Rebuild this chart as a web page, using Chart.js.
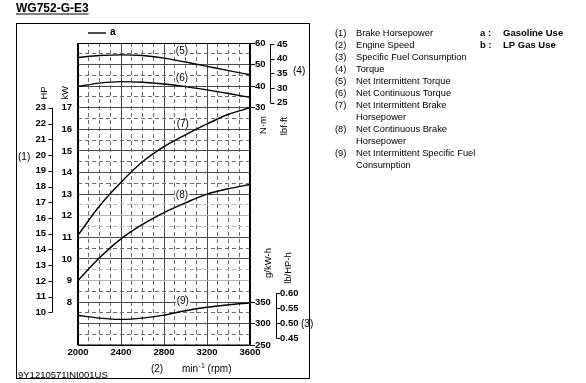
<!DOCTYPE html>
<html><head><meta charset="utf-8">
<script src="https://cdn.jsdelivr.net/npm/chart.js@4.4.1/dist/chart.umd.min.js"></script>
<style>html,body{margin:0;padding:0;background:#fff;}canvas{display:block;}</style>
</head><body>
<canvas id="c" width="586" height="383"></canvas>
<script>
// ---- data ----
const rpm = [2000, 2200, 2400, 2600, 2800, 3000, 3200, 3400, 3600];
const intermittentTorque = [53.3, 54.2, 54.5, 54.2, 53.0, 51.2, 49.2, 47.2, 45.3];   // (5) N·m
const continuousTorque   = [39.9, 41.4, 42.1, 41.8, 41.0, 39.8, 38.3, 36.6, 34.8];   // (6) N·m
const intermittentPower  = [11.1, 12.45, 13.55, 14.5, 15.2, 15.75, 16.25, 16.7, 17.0]; // (7) kW
const continuousPower    = [9.0, 10.05, 10.93, 11.6, 12.15, 12.6, 13.0, 13.25, 13.45]; // (8) kW
const intermittentSfc    = [319, 313, 310, 313, 320, 330, 338, 344, 348];            // (9) g/kWh

const xTickLabels = [2000, 2400, 2800, 3200, 3600];
const hpTicks   = [10, 11, 12, 13, 14, 15, 16, 17, 18, 19, 20, 21, 22, 23];
const kwTicks   = [8, 9, 10, 11, 12, 13, 14, 15, 16, 17];
const nmTicks   = [30, 40, 50, 60];
const lbfTicks  = [25, 30, 35, 40, 45];
const sfcTicks  = [250, 300, 350];
const lbhTicks  = [0.45, 0.50, 0.55, 0.60];
const grayRows  = [3, 3.5, 5.5, 6, 6.5];

const legendItems = [
  ['(1)', 'Brake Horsepower'],
  ['(2)', 'Engine Speed'],
  ['(3)', 'Specific Fuel Consumption'],
  ['(4)', 'Torque'],
  ['(5)', 'Net Intermittent Torque'],
  ['(6)', 'Net Continuous Torque'],
  ['(7)', 'Net Intermittent Brake'],
  ['', 'Horsepower'],
  ['(8)', 'Net Continuous Brake'],
  ['', 'Horsepower'],
  ['(9)', 'Net Intermittent Specific Fuel'],
  ['', 'Consumption']
];

const FONT = '"Liberation Sans", Arial, Helvetica, sans-serif';
const pts = arr => rpm.map((x, i) => ({x: x, y: arr[i]}));
const setTicks = vals => (s) => { s.ticks = vals.map(v => ({value: v})); };
const zeroW = s => { s.width = 0; };
const tickFont = {family: FONT, size: 9.5, weight: 'bold'};

function ds(arr, axis) {
  return {data: pts(arr), yAxisID: axis, borderColor: '#000', borderWidth: 1.4,
          pointRadius: 0, fill: false, cubicInterpolationMode: 'monotone'};
}

function yAxis(pos, min, max, vals, pad, drawTicks, fmt) {
  return {
    type: 'linear', position: pos, min: min, max: max,
    afterBuildTicks: setTicks(vals), afterFit: zeroW,
    border: {display: false},
    grid: {drawOnChartArea: false, drawTicks: drawTicks, tickLength: 5, tickColor: '#000', tickWidth: 1},
    ticks: {autoSkip: false, padding: pad, color: '#000', font: tickFont,
            callback: fmt || (v => String(v))}
  };
}

const deco = {
  id: 'deco',
  afterLayout(chart) {
    // widen the zero-width axis boxes so their labels are not clipped
    Object.values(chart.scales).forEach(s => {
      if (s.axis === 'y') {
        if (s.position === 'left') { s.left = 0; }
        else { s.right = chart.width; }
        s.width = s.right - s.left;
      } else {
        s.bottom = chart.height; s.height = s.bottom - s.top;
      }
    });
  },
  beforeDatasetsDraw(chart) {
    const ctx = chart.ctx, a = chart.chartArea;
    ctx.save();
    ctx.strokeStyle = '#000';
    ctx.lineWidth = 1.2;
    ctx.beginPath(); ctx.moveTo(a.left, a.top + 0.5); ctx.lineTo(a.right, a.top + 0.5); ctx.stroke();
    ctx.lineWidth = 1.6;
    ctx.beginPath(); ctx.moveTo(a.left, a.bottom); ctx.lineTo(a.right, a.bottom); ctx.stroke();
    ctx.lineWidth = 2;
    ctx.beginPath(); ctx.moveTo(a.left, a.top); ctx.lineTo(a.left, a.bottom); ctx.stroke();
    ctx.beginPath(); ctx.moveTo(a.right, a.top); ctx.lineTo(a.right, a.bottom); ctx.stroke();
    ctx.restore();
  },
  afterDatasetsDraw(chart) {
    const ctx = chart.ctx, s = chart.scales;
    ctx.save();
    // curve labels
    const labels = [['(5)', 2967, 56.3, 'nm'], ['(6)', 2967, 43.8, 'nm'], ['(7)', 2975, 16.26, 'kw'],
                    ['(8)', 2967, 12.95, 'kw'], ['(9)', 2975, 351, 'sfc']];
    ctx.font = '10px ' + FONT;
    ctx.textAlign = 'center'; ctx.textBaseline = 'middle';
    labels.forEach(l => {
      const x = s.x.getPixelForValue(l[1]), y = s[l[3]].getPixelForValue(l[2]);
      const w = ctx.measureText(l[0]).width + 2;
      ctx.fillStyle = '#fff'; ctx.fillRect(x - w / 2, y - 5, w, 10);
      ctx.fillStyle = '#000'; ctx.fillText(l[0], x, y);
    });
    // brackets
    ctx.strokeStyle = '#000'; ctx.lineWidth = 1;
    function bracket(scale, vals, x, dir) {
      const y1 = scale.getPixelForValue(vals[0]), y2 = scale.getPixelForValue(vals[vals.length - 1]);
      ctx.beginPath(); ctx.moveTo(x, y1); ctx.lineTo(x, y2); ctx.stroke();
      vals.forEach(v => {
        const y = Math.round(scale.getPixelForValue(v)) + 0.5;
        ctx.beginPath(); ctx.moveTo(x, y); ctx.lineTo(x + dir * 4, y); ctx.stroke();
      });
    }
    bracket(s.hp, hpTicks, 52.5, -1);
    bracket(s.lbf, lbfTicks, 270.5, 1);
    bracket(s.lbh, lbhTicks, 276.5, 1);
    ctx.restore();
  },
  afterDraw(chart) {
    const ctx = chart.ctx;
    ctx.save();
    ctx.fillStyle = '#000'; ctx.strokeStyle = '#000';
    // title
    ctx.font = 'bold 12px ' + FONT;
    ctx.textAlign = 'left'; ctx.textBaseline = 'alphabetic';
    ctx.fillText('WG752-G-E3', 16, 12);
    const tw = ctx.measureText('WG752-G-E3').width;
    ctx.lineWidth = 1;
    ctx.beginPath(); ctx.moveTo(16, 14); ctx.lineTo(16 + tw, 14); ctx.stroke();
    // frame
    ctx.strokeRect(16.5, 23.5, 293, 355);
    // legend a
    ctx.lineWidth = 1.4;
    ctx.beginPath(); ctx.moveTo(88, 33); ctx.lineTo(106, 33); ctx.stroke();
    ctx.font = 'bold 10px ' + FONT; ctx.textBaseline = 'middle';
    ctx.fillText('a', 110, 32);
    // rotated unit labels
    function rot(t, x, y) {
      ctx.save(); ctx.translate(x, y); ctx.rotate(-Math.PI / 2);
      ctx.textAlign = 'center'; ctx.textBaseline = 'middle';
      ctx.fillText(t, 0, 0); ctx.restore();
    }
    ctx.font = '9.5px ' + FONT;
    rot('HP', 44, 93);
    rot('kW', 65, 93);
    rot('N·m', 263, 125);
    rot('lbf·ft', 284, 126);
    rot('g/kW-h', 268, 263);
    rot('lb/HP-h', 288, 268);
    ctx.font = '10px ' + FONT; ctx.textAlign = 'left'; ctx.textBaseline = 'middle';
    ctx.fillText('(1)', 18, 157);
    ctx.fillText('(4)', 293, 71);
    ctx.fillText('(3)', 301, 324);
    ctx.textAlign = 'center';
    ctx.fillText('(2)', 157, 369);
    ctx.textAlign = 'left';
    ctx.fillText('min', 182, 369);
    let mx = 182 + ctx.measureText('min').width;
    ctx.font = '7px ' + FONT;
    ctx.fillText('-1', mx + 0.5, 366);
    mx += ctx.measureText('-1').width + 0.5;
    ctx.font = '10px ' + FONT;
    ctx.fillText(' (rpm)', mx, 369);
    ctx.font = '9.5px ' + FONT;
    ctx.fillText('9Y1210571INI001US', 18, 375);
    // right legend
    ctx.font = '9.3px ' + FONT;
    legendItems.forEach((it, i) => {
      const y = 33 + i * 12;
      if (it[0]) ctx.fillText(it[0], 335, y);
      ctx.fillText(it[1], 356, y);
    });
    ctx.font = 'bold 9.5px ' + FONT;
    ctx.fillText('a :', 480, 33); ctx.fillText('Gasoline Use', 503, 33);
    ctx.fillText('b :', 480, 45); ctx.fillText('LP Gas Use', 503, 45);
    ctx.restore();
  }
};

new Chart(document.getElementById('c'), {
  type: 'line',
  data: {datasets: [
    ds(intermittentTorque, 'nm'),
    ds(continuousTorque, 'nm'),
    ds(intermittentPower, 'kw'),
    ds(continuousPower, 'kw'),
    ds(intermittentSfc, 'sfc')
  ]},
  options: {
    responsive: false, animation: false, devicePixelRatio: 1,
    layout: {padding: {left: 78, right: 336, top: 43, bottom: 37}},
    plugins: {legend: {display: false}, tooltip: {enabled: false}, title: {display: false}},
    scales: {
      x: {
        type: 'linear', position: 'bottom', min: 2000, max: 3600,
        afterFit: s => { s.height = 0; },
        border: {display: false, dash: c => (c.tick && c.tick.value % 400 !== 0) ? [4, 3] : []},
        grid: {drawTicks: false, lineWidth: 1,
               color: c => (c.tick && c.tick.value % 400 !== 0) ? '#6a6a6a' : '#4a4a4a'},
        ticks: {stepSize: 100, autoSkip: false, maxRotation: 0, padding: 1, color: '#000', font: tickFont,
                callback: v => xTickLabels.includes(v) ? String(v) : ''}
      },
      row: {
        type: 'linear', position: 'left', min: 0, max: 14,
        afterFit: zeroW,
        border: {display: false, dash: c => (c.tick && c.tick.value % 1 !== 0) ? [4, 3] : []},
        grid: {drawTicks: false, lineWidth: 1,
               color: c => (c.tick && grayRows.includes(c.tick.value)) ? '#b4b4b4' :
                           ((c.tick && c.tick.value % 1 !== 0) ? '#6a6a6a' : '#4a4a4a')},
        ticks: {display: false, stepSize: 0.5, autoSkip: false}
      },
      hp: yAxis('left', 7.91, 27.12, hpTicks, 32, false),
      kw: yAxis('left', 6, 20, kwTicks, 6, false),
      nm: yAxis('right', -80, 60, nmTicks, 0, true),
      lbf: yAxis('right', -57.37, 45.34, lbfTicks, 27, false),
      sfc: yAxis('right', 250, 950, sfcTicks, 0, true),
      lbh: yAxis('right', 0.4267, 1.4367, lbhTicks, 30, false, v => v.toFixed(2))
    }
  },
  plugins: [deco]
});
</script>
</body></html>
